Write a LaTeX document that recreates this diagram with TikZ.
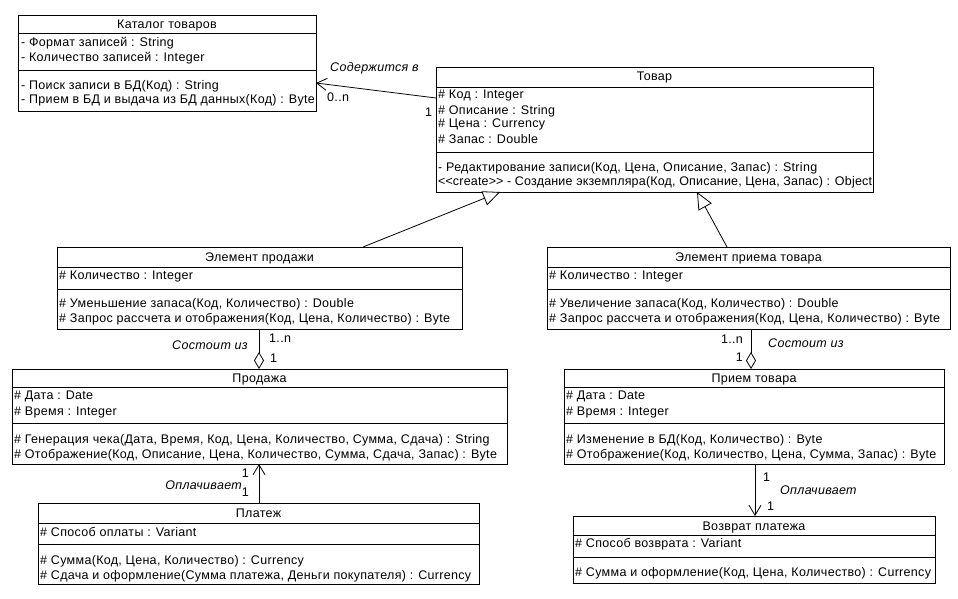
\documentclass[tikz,border=0pt]{standalone}
\usepackage{fontspec}
\setmainfont{Liberation Sans}[LetterSpace=2.5]
\usetikzlibrary{arrows.meta,calc}
\newcommand\umlclass[7]{%
  \node[classbox, anchor=north west, minimum width={(#4-#2)*1pt}, minimum height={(#5-#3)*1pt}] (#1) at (#2,#3) {};
  \draw[divider] (#2,#6) -- (#4,#6);
  \draw[divider] (#2,#7) -- (#4,#7);
}
\begin{document}
\begin{tikzpicture}[x=1pt,y=-1pt,
  classbox/.style={draw=black, line width=0.8pt, fill=white, inner sep=0pt, outer sep=0pt},
  divider/.style={draw=black, line width=0.8pt},
  ln/.style={anchor=base west, inner sep=0pt, font=\fontsize{12.5}{15}\selectfont},
  ttl/.style={anchor=base, inner sep=0pt, font=\fontsize{12.5}{15}\selectfont},
  lbl/.style={inner sep=0pt, font=\fontsize{12.5}{15}\selectfont},
  ilbl/.style={inner sep=0pt, font=\fontsize{12.5}{15}\selectfont\itshape},
  conn/.style={draw=black, line width=0.8pt},
  navarrow/.style={conn, -{Straight Barb[length=10pt, width=12pt, line width=0.8pt]}},
  genarrow/.style={conn, -{Triangle[open, length=17pt, width=15pt, fill=white, line width=0.8pt]}},
  aggarrow/.style={conn, -{Diamond[open, length=17pt, width=10pt, fill=white, line width=0.8pt]}}
]
\useasboundingbox[fill=white] (0,0) rectangle (958,599);

% ---------- Каталог товаров
\umlclass{katalog}{18}{15}{316}{111}{33}{70}
\node[ttl] (katalogT) at (167,29) {Каталог товаров};
\node[ln] (k1) at (21,47) {- Формат записей : String};
\node[ln] (k2) at (21,62) {- Количество записей : Integer};
\node[ln] (k3) at (21,90) {- Поиск записи в БД(Код) : String};
\node[ln] (k4) at (21,104) {- Прием в БД и выдача из БД данных(Код) : Byte};

% ---------- Товар
\umlclass{tovar}{436}{67}{873}{192}{87}{152}
\node[ttl] (tovarT) at (654.5,81) {Товар};
\node[ln] (t1) at (438,99) {\# Код : Integer};
\node[ln] (t2) at (438,114) {\# Описание : String};
\node[ln] (t3) at (438,128) {\# Цена : Currency};
\node[ln] (t4) at (438,143) {\# Запас : Double};
\node[ln] (t5) at (438,171) {- Редактирование записи(Код, Цена, Описание, Запас) : String};
\node[ln] (t6) at (438,185) {\addfontfeature{LetterSpace=1.5}<\kern0pt<create>\kern0pt> - Создание экземпляра(Код, Описание, Цена, Запас) : Object};

% ---------- Элемент продажи
\umlclass{elprod}{57}{247}{462}{329}{267}{289}
\node[ttl] (elprodT) at (259.5,261) {Элемент продажи};
\node[ln] (ep1) at (59,279) {\# Количество : Integer};
\node[ln] (ep2) at (59,307) {\# Уменьшение запаса(Код, Количество) : Double};
\node[ln] (ep3) at (59,322) {\# Запрос рассчета и отображения(Код, Цена, Количество) : Byte};

% ---------- Элемент приема товара
\umlclass{elpriem}{547}{247}{950}{329}{267}{289}
\node[ttl] (elpriemT) at (748.5,261) {Элемент приема товара};
\node[ln] (er1) at (549,279) {\# Количество : Integer};
\node[ln] (er2) at (549,307) {\# Увеличение запаса(Код, Количество) : Double};
\node[ln] (er3) at (549,322) {\# Запрос рассчета и отображения(Код, Цена, Количество) : Byte};

% ---------- Продажа
\umlclass{prodazha}{12}{369}{507}{464}{387}{423}
\node[ttl] (prodazhaT) at (259.5,382) {Продажа};
\node[ln] (p1) at (14,399) {\# Дата : Date};
\node[ln] (p2) at (14,415) {\# Время : Integer};
\node[ln] (p3) at (14,443) {\# Генерация чека(Дата, Время, Код, Цена, Количество, Сумма, Сдача) : String};
\node[ln] (p4) at (14,458) {\# Отображение(Код, Описание, Цена, Количество, Сумма, Сдача, Запас) : Byte};

% ---------- Прием товара
\umlclass{priem}{564}{369}{944}{464}{387}{423}
\node[ttl] (priemT) at (754,382) {Прием товара};
\node[ln] (r1) at (566,399) {\# Дата : Date};
\node[ln] (r2) at (566,415) {\# Время : Integer};
\node[ln] (r3) at (566,443) {\# Изменение в БД(Код, Количество) : Byte};
\node[ln] (r4) at (566,458) {\# Отображение(Код, Количество, Цена, Сумма, Запас) : Byte};

% ---------- Платеж
\umlclass{platezh}{38}{503}{479}{584}{523}{544}
\node[ttl] (platezhT) at (258.5,517) {Платеж};
\node[ln] (pl1) at (40,536) {\# Способ оплаты : Variant};
\node[ln] (pl2) at (40,564) {\# Сумма(Код, Цена, Количество) : Currency};
\node[ln] (pl3) at (40,579) {\# Сдача и оформление(Сумма платежа, Деньги покупателя) : Currency};

% ---------- Возврат платежа
\umlclass{vozvrat}{573}{516}{935}{583}{535}{557}
\node[ttl] (vozvratT) at (754,530) {Возврат платежа};
\node[ln] (v1) at (575,547) {\# Способ возврата : Variant};
\node[ln] (v2) at (575,576) {\# Сумма и оформление(Код, Цена, Количество) : Currency};

% ---------- connectors
\coordinate (cA1) at ($(tovar.north west)+(0,31)$);
\coordinate (cA2) at ($(katalog.north east)+(0,68)$);
\draw[navarrow] (cA1) -- (cA2);
\node[ilbl, anchor=base west] (lA1) at (330,72) {Содержится в};
\node[lbl, anchor=base west] (lA2) at (327,102) {0..n};
\node[lbl, anchor=base west] (lA3) at (425,117) {1};

\coordinate (cG1) at ($(elprod.north west)+(306,0)$);
\coordinate (cG2) at ($(tovar.south west)+(64,0)$);
\draw[genarrow] (cG1) -- (cG2);
\coordinate (cG3) at ($(elpriem.north west)+(180,0)$);
\coordinate (cG4) at ($(tovar.south west)+(261,0)$);
\draw[genarrow] (cG3) -- (cG4);

\coordinate (cD1) at ($(elprod.south west)+(202,0)$);
\coordinate (cD2) at ($(prodazha.north west)+(247,0)$);
\draw[aggarrow] (cD1) -- (cD2);
\node[lbl, anchor=base west] (lD1) at (269,342) {1..n};
\node[ilbl, anchor=base east] (lD2) at (248,349) {Состоит из};
\node[lbl, anchor=base west] (lD3) at (270,362) {1};

\coordinate (cD3) at ($(elpriem.south west)+(204,0)$);
\coordinate (cD4) at ($(priem.north west)+(187,0)$);
\draw[aggarrow] (cD3) -- (cD4);
\node[lbl, anchor=base east] (lD4) at (743,343) {1..n};
\node[ilbl, anchor=base west] (lD5) at (768,347) {Состоит из};
\node[lbl, anchor=base east] (lD6) at (743,361) {1};

\coordinate (cP1) at ($(platezh.north west)+(221,0)$);
\coordinate (cP2) at ($(prodazha.south west)+(247,0)$);
\draw[navarrow] (cP1) -- (cP2);
\node[lbl, anchor=base east] (lP1) at (249,477) {1};
\node[ilbl, anchor=base east] (lP2) at (242,489) {Оплачивает};
\node[lbl, anchor=base east] (lP3) at (249,496) {1};

\coordinate (cP3) at ($(priem.south west)+(191,0)$);
\coordinate (cP4) at ($(vozvrat.north west)+(182,0)$);
\draw[navarrow] (cP3) -- (cP4);
\node[lbl, anchor=base west] (lP4) at (763,481) {1};
\node[ilbl, anchor=base west] (lP5) at (780,494) {Оплачивает};
\node[lbl, anchor=base west] (lP6) at (767,510) {1};
\end{tikzpicture}
\end{document}
